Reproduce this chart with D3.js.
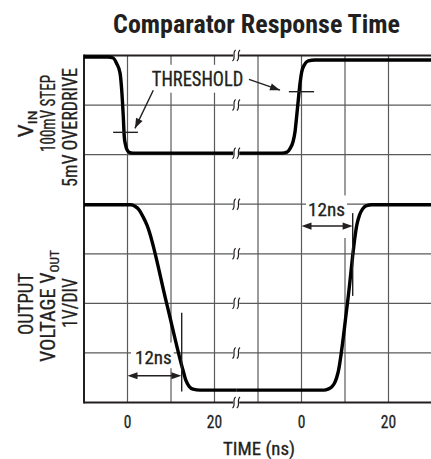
<!DOCTYPE html>
<html>
<head>
<meta charset="utf-8">
<script src="https://cdn.jsdelivr.net/npm/d3@7"></script>
<style>
body { margin: 0; background: #fff; }
svg { display: block; }
text { font-family: "Liberation Sans Narrow", "Roboto Condensed", "Liberation Sans", Arial, sans-serif; fill: #231f20; stroke: #231f20; stroke-width: 0.3; }
text.title { stroke: none; }
</style>
</head>
<body>
<div id="chart"></div>
<script>
// ---- DATA: time in ns, level in grid divisions counted from the top ----
const tickLabels = ['0', '20', '0', '20'];
const tickTimes = [0, 20, 0, 20];           // left trace, left trace, right trace, right trace
const tickSide = ['L', 'L', 'R', 'R'];

// input step, falling edge (left part of the time axis)
const vinLeft = [[-10, 0.03], [-4.5, 0.03], [-3.3, 0.05], [-2.5, 0.16], [-1.7, 0.36], [-1.33, 0.70],
  [-0.97, 1.23], [-0.74, 1.64], [-0.46, 1.80], [-0.18, 1.89], [0.35, 1.95], [1.26, 1.97], [25, 1.97]];
// input step, rising edge (right part)
const vinRight = [[-15, 1.97], [-4.55, 1.97], [-3.33, 1.95], [-2.64, 1.88], [-1.95, 1.74], [-1.49, 1.54],
  [-1.15, 1.26], [-0.74, 0.90], [-0.34, 0.56], [0.05, 0.33], [0.64, 0.19], [1.56, 0.11], [3.1, 0.09], [30, 0.09]];
// output, falling
const outLeft = [[-10, 3.01], [0.8, 3.01], [1.72, 3.04], [2.64, 3.11], [3.56, 3.25], [4.48, 3.42],
  [8.97, 4.99], [12.76, 6.35], [13.45, 6.56], [14.14, 6.67], [15.06, 6.73], [16.67, 6.75], [25, 6.75]];
// output, rising
const outRight = [[-15, 6.75], [5.17, 6.75], [6.09, 6.73], [7.01, 6.68], [7.70, 6.59], [8.39, 6.40],
  [10.57, 4.99], [12.76, 3.40], [13.33, 3.22], [14.02, 3.10], [14.94, 3.03], [16.2, 3.01], [30, 3.01]];

// threshold ticks [t1, t2, level] and arrows [[t,lvl] from, [t,lvl] to]
const threshLeft = [-3.3, 2.4, 1.55];
const threshRight = [-2.9, 2.9, 0.73];
const threshArrowLeft = [[5.93, 0.70], [1.72, 1.47]];
const threshArrowRight = [[-12.07, 0.48], [-4.94, 0.70]];

// 12ns delay markers: arrow [t1, t2, level], bar [t, lvl1, lvl2]
const delayLeft = { arrow: [0, 12.4, 6.46], bar: [12.46, 5.19, 6.78], label: [5.95, 6.23] };
const delayRight = { arrow: [0, 11.75, 3.44], bar: [11.77, 3.18, 4.85], label: [5.75, 3.24] };

const breakTime = 25;   // axis break, left time scale

/**
 * SVG
 */
const svg = d3.select('#chart').append('svg')
  .attr('width', 431)
  .attr('height', 459);

const X0 = 84, Y0 = 55.5, W = 348, H = 347;
const xLeft = d3.scaleLinear().domain([-10, 70]).range([X0, X0 + W]);
const xRight = d3.scaleLinear().domain([-50, 30]).range([X0, X0 + W]);
const yDiv = d3.scaleLinear().domain([0, 7]).range([Y0, Y0 + H]);
const xs = s => (s === 'L' ? xLeft : xRight);

/**
 * GRID
 */
const grid = svg.append('g').attr('stroke', '#5a5a5a').attr('stroke-width', 1.2);
d3.range(1, 8).forEach(i => {
  grid.append('line').attr('x1', xLeft(-10 + i * 10)).attr('x2', xLeft(-10 + i * 10))
    .attr('y1', Y0).attr('y2', Y0 + H);
});
d3.range(1, 7).forEach(i => {
  grid.append('line').attr('x1', X0).attr('x2', X0 + W).attr('y1', yDiv(i)).attr('y2', yDiv(i));
});
// frame
const frame = svg.append('g').attr('stroke', '#231f20').attr('stroke-width', 2);
frame.append('line').attr('x1', X0).attr('x2', X0 + W).attr('y1', yDiv(0)).attr('y2', yDiv(0));
frame.append('line').attr('x1', X0).attr('x2', X0 + W).attr('y1', yDiv(7)).attr('y2', yDiv(7));
frame.append('line').attr('x1', X0).attr('x2', X0).attr('y1', yDiv(0) - 1).attr('y2', yDiv(7) + 1);

/**
 * TRACES
 */
function trace(data, side) {
  const line = d3.line()
    .x(d => xs(side)(d[0]))
    .y(d => yDiv(d[1]))
    .curve(d3.curveMonotoneX);
  svg.append('path').datum(data)
    .attr('d', line)
    .attr('fill', 'none')
    .attr('stroke', '#000')
    .attr('stroke-width', 3.4)
    .attr('stroke-linejoin', 'round');
}
trace(vinLeft, 'L');
trace(vinRight, 'R');
trace(outLeft, 'L');
trace(outRight, 'R');

/**
 * TEXT HELPER - squeeze to the measured width of the reference
 */
function label(parts, x, y, size, width, rot, weight, pad) {
  const t = svg.append('text')
    .attr('font-size', size)
    .attr('text-anchor', 'middle')
    .attr('font-weight', weight || 'normal');
  parts.forEach(p => {
    const s = t.append('tspan').text(p[0]);
    if (p[1]) s.attr('font-size', size * 0.66).attr('dy', size * 0.2);
  });
  const bw = t.node().getBBox().width;
  const k = width / bw;
  t.attr('transform', `translate(${x},${y}) rotate(${rot || 0}) scale(${k},1)`);
  if (pad) {
    // white box behind, hides the grid
    const r = t.node().getBoundingClientRect();
    svg.insert('rect', () => t.node())
      .attr('x', r.left - pad[3]).attr('y', r.top - pad[0])
      .attr('width', r.width + pad[1] + pad[3]).attr('height', r.height + pad[0] + pad[2])
      .attr('fill', '#fff');
  }
  return t;
}

// title
label([['Comparator Response Time']], 256.5, 33, 25, 287, 0, 'bold').attr('class', 'title');

// THRESHOLD
label([['THRESHOLD']], xLeft(16.1), yDiv(0.625), 20, 91.6, 0, null, [3, 3, 1, 3]);

// 12ns labels
label([['12ns']], xLeft(delayLeft.label[0]), yDiv(delayLeft.label[1]), 18.5, 36.7, 0, null, [5, 2, -1, 4]);
label([['12ns']], xRight(delayRight.label[0]), yDiv(delayRight.label[1]), 18.5, 37, 0, null, [4, 2, 17, 2]);

// y labels
label([['V'], ['IN', true]], 33, 124, 20, 27, -90);
label([['100mV STEP']], 55, 113.5, 20, 77, -90);
label([['5mV OVERDRIVE']], 77, 127.5, 20, 119, -90);
label([['OUTPUT']], 33, 304, 20, 62, -90);
label([['VOLTAGE V'], ['OUT', true]], 55, 306, 20, 112, -90);
label([['1V/DIV']], 77, 303, 20, 50, -90);

// x axis title
label([['TIME (ns)']], 259, 455, 18, 72);

/**
 * X AXIS
 */
const xAxis = d3.axisBottom(d3.scaleLinear().domain([0, 1]).range([0, 1]))
  .tickValues(d3.range(tickLabels.length))
  .tickFormat(i => tickLabels[i])
  .tickSize(0)
  .tickPadding(12.5);
const ax = svg.append('g')
  .attr('transform', `translate(0, ${Y0 + H})`)
  .call(xAxis);
ax.select('.domain').remove();
ax.selectAll('.tick')
  .attr('transform', i => `translate(${xs(tickSide[i])(tickTimes[i])},0)`);
ax.selectAll('.tick text')
  .attr('font-size', 18.5)
  .attr('font-family', null)
  .attr('fill', '#231f20')
  .style('transform', 'scaleX(0.84)');
ax.attr('font-family', null).attr('font-size', null);

/**
 * AXIS BREAK MARKS
 */
const bx = xLeft(breakTime);
d3.range(0, 8).forEach(i => {
  const by = yDiv(i === 2 ? 1.97 : i);
  const h = i === 2 ? 8 : 6;
  svg.append('rect').attr('x', bx - 3).attr('y', by - h / 2).attr('width', 6).attr('height', h).attr('fill', '#fff');
  [-2.2, 2.2].forEach(dx => {
    const cx = bx + dx;
    svg.append('path')
      .attr('d', `M${cx + 1.6},${by - 5.5} C${cx - 2.2},${by - 3} ${cx + 2.2},${by + 3} ${cx - 1.6},${by + 5.5}`)
      .attr('fill', 'none').attr('stroke', '#231f20').attr('stroke-width', 1.2);
  });
});

/**
 * ANNOTATIONS
 */
function head(x1, y1, x2, y2, len, hw) {
  const a = Math.atan2(y2 - y1, x2 - x1);
  const bx0 = x2 - len * Math.cos(a), by0 = y2 - len * Math.sin(a);
  const px = -Math.sin(a) * hw, py = Math.cos(a) * hw;
  svg.append('path')
    .attr('d', `M${x2},${y2} L${bx0 + px},${by0 + py} L${bx0 - px},${by0 - py} Z`)
    .attr('fill', '#231f20');
}
function arrow(p1, p2, side) {
  const x1 = xs(side)(p1[0]), y1 = yDiv(p1[1]), x2 = xs(side)(p2[0]), y2 = yDiv(p2[1]);
  svg.append('line').attr('x1', x1).attr('y1', y1).attr('x2', x2).attr('y2', y2)
    .attr('stroke', '#231f20').attr('stroke-width', 1.4);
  head(x1, y1, x2, y2, 10, 3.6);
}
// threshold ticks
[[threshLeft, 'L'], [threshRight, 'R']].forEach(([d, s]) => {
  svg.append('line').attr('x1', xs(s)(d[0])).attr('x2', xs(s)(d[1]))
    .attr('y1', yDiv(d[2])).attr('y2', yDiv(d[2]))
    .attr('stroke', '#231f20').attr('stroke-width', 1.4);
});
arrow(threshArrowLeft[0], threshArrowLeft[1], 'L');
arrow(threshArrowRight[0], threshArrowRight[1], 'R');

// 12ns markers
[[delayLeft, 'L'], [delayRight, 'R']].forEach(([m, s]) => {
  const x = xs(s);
  svg.append('line').attr('x1', x(m.bar[0])).attr('x2', x(m.bar[0]))
    .attr('y1', yDiv(m.bar[1])).attr('y2', yDiv(m.bar[2]))
    .attr('stroke', '#231f20').attr('stroke-width', 1.4);
  const xa = x(m.arrow[0]), xb = x(m.arrow[1]), ya = yDiv(m.arrow[2]);
  svg.append('line').attr('x1', xa + 4).attr('x2', xb - 4).attr('y1', ya).attr('y2', ya)
    .attr('stroke', '#231f20').attr('stroke-width', 1.4);
  head(xb, ya, xa, ya, 10, 3.6);
  head(xa, ya, xb, ya, 10, 3.6);
});
</script>
</body>
</html>
